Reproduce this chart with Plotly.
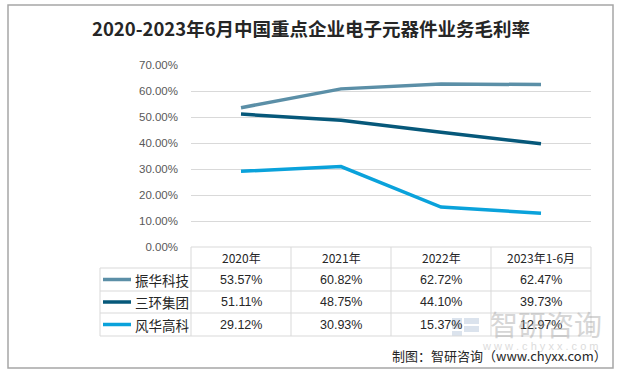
import plotly.graph_objects as go

categories = ["2020年", "2021年", "2022年", "2023年1-6月"]
series_names = ["振华科技", "三环集团", "风华高科"]
zhenhua = [53.57, 60.82, 62.72, 62.47]
sanhuan = [51.11, 48.75, 44.10, 39.73]
fenghua = [29.12, 30.93, 15.37, 12.97]
series_values = [zhenhua, sanhuan, fenghua]
colors = ["#5B8FA7", "#06587A", "#0AA2DB"]
y_ticks = [0, 10, 20, 30, 40, 50, 60, 70]

W, H = 622, 377
L, R, T, B = 191, 31, 65, 130
PW, PH = W - L - R, H - T - B

def px_x(x):
    return (x - L) / PW

def px_y(y):
    return (H - B - y) / PH

fig = go.Figure()
xs = list(range(len(categories)))
for name, vals, c in zip(series_names, series_values, colors):
    fig.add_trace(go.Scatter(x=xs, y=[v / 100 for v in vals], mode="lines", name=name,
                             line=dict(color=c, width=3.5), showlegend=False, hoverinfo="skip"))

shapes = []
annotations = []
grid = "#D9D9D9"
row_edges = [247, 268, 291, 313, 336]
table_left = 100
col_edges = [191, 291, 391, 491, 591]
for i, ry in enumerate(row_edges):
    x0 = col_edges[0] if i == 0 else table_left
    shapes.append(dict(type="line", xref="paper", yref="paper", x0=px_x(x0), x1=px_x(591),
                       y0=px_y(ry), y1=px_y(ry), line=dict(color=grid, width=1)))
for cx in col_edges:
    shapes.append(dict(type="line", xref="paper", yref="paper", x0=px_x(cx), x1=px_x(cx),
                       y0=px_y(247), y1=px_y(336), line=dict(color=grid, width=1)))
shapes.append(dict(type="line", xref="paper", yref="paper", x0=px_x(table_left), x1=px_x(table_left),
                   y0=px_y(268), y1=px_y(336), line=dict(color=grid, width=1)))
shapes.append(dict(type="rect", xref="paper", yref="paper", x0=px_x(8), x1=px_x(613),
                   y0=px_y(5), y1=px_y(368), line=dict(color="#A6A6A6", width=1.5)))

# faint watermark logo squares
for (a, b, c2, d) in [(452, 318, 462, 329), (464, 318, 479, 324), (464, 326, 479, 332), (452, 331, 462, 336)]:
    shapes.append(dict(type="rect", xref="paper", yref="paper", x0=px_x(a), x1=px_x(c2),
                       y0=px_y(b), y1=px_y(d), line=dict(width=0), fillcolor="#B8C8DC", opacity=0.5,
                       layer="below"))

font_cn = "Noto Sans CJK SC"

def ann(x, y, text, size, color="#262626", family=font_cn, xanchor="center", xref="paper", opacity=1):
    annotations.append(dict(x=x, xref=xref, y=y, yref="paper", text=text, showarrow=False,
                            xanchor=xanchor, yanchor="middle", opacity=opacity,
                            font=dict(family=family, size=size, color=color)))

for i, cat in enumerate(categories):
    ann(i, px_y((247 + 268) / 2), cat, 12, xref="x")
for r, (name, vals, c) in enumerate(zip(series_names, series_values, colors)):
    yc = (row_edges[r + 1] + row_edges[r + 2]) / 2
    for i, v in enumerate(vals):
        ann(i, px_y(yc), f"{v:.2f}%", 12.5, family="Liberation Sans, Arial", xref="x")
    shapes.append(dict(type="line", xref="paper", yref="paper", x0=px_x(103), x1=px_x(131),
                       y0=px_y(yc), y1=px_y(yc), line=dict(color=c, width=3.5)))
    ann(px_x(133), px_y(yc), name, 13.5, xanchor="left")

ann(px_x(311), px_y(28), "<b>2020-2023年6月中国重点企业电子元器件业务毛利率</b>", 18.5)
ann(px_x(546), px_y(324), "智研咨询", 28, color="#9A9A9A", opacity=0.4)
ann(px_x(540), px_y(346), "w w w . c h y x x . c o m", 11, color="#9A9A9A",
    family="Liberation Sans", opacity=0.35)
ann(px_x(609), px_y(355), "制图：智研咨询（www.chyxx.com）", 13, xanchor="right")

fig.update_layout(
    width=W, height=H,
    margin=dict(l=L, r=R, t=T, b=B, pad=0),
    paper_bgcolor="white", plot_bgcolor="white",
    xaxis=dict(range=[-0.5, 3.5], showticklabels=False, showgrid=False, zeroline=False,
               fixedrange=True, showline=False, ticks=""),
    yaxis=dict(range=[0, 0.7], tickvals=[t / 100 for t in y_ticks], tickformat=".2%",
               showgrid=True, gridcolor=grid, gridwidth=1, zeroline=False, showline=False,
               tickfont=dict(family="Liberation Sans, Arial", size=11.5, color="#595959"),
               ticklabelstandoff=12, fixedrange=True),
    shapes=shapes, annotations=annotations, showlegend=False,
)

fig.write_html("out.html", post_script="document.body.style.margin='0';",
               config={"displayModeBar": False})
